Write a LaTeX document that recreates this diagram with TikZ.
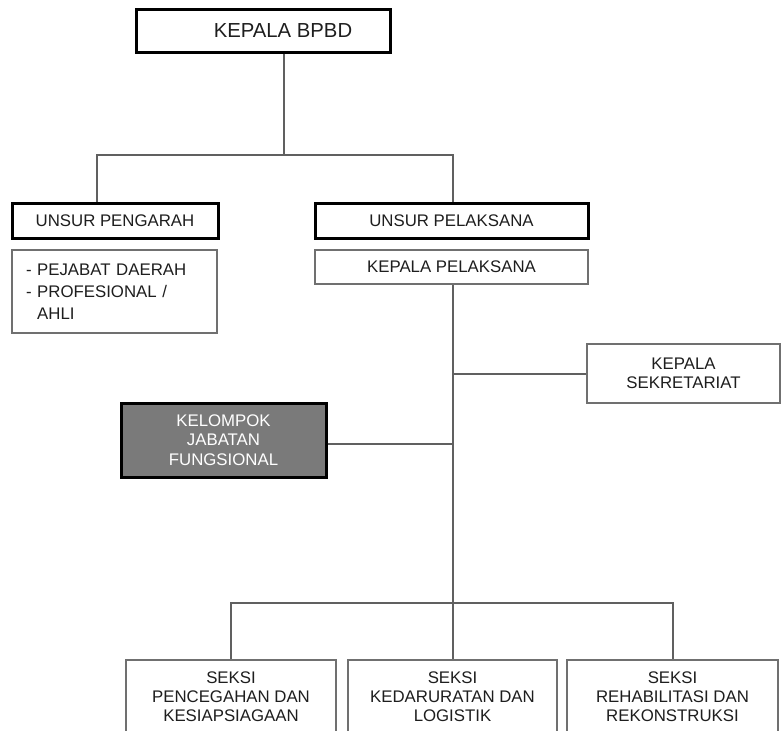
\documentclass[tikz,border=0pt]{standalone}
\usepackage{fontspec}
\setmainfont{Liberation Sans}
\definecolor{txt}{HTML}{1E1E1E}
\definecolor{lin}{HTML}{606060}
\definecolor{thinb}{HTML}{707070}
\definecolor{kfill}{HTML}{7A7A7A}
\begin{document}
\begin{tikzpicture}[x=1pt,y=-1pt,
  every node/.style={font=\fontsize{16.8}{19}\selectfont, text=txt, inner sep=0pt},
  thickbox/.style={draw=black, line width=3pt, fill=white},
  thinbox/.style={draw=thinb, line width=1.5pt, fill=white},
  conn/.style={draw=lin, line width=2pt},
  lbl/.style={align=center}]
\useasboundingbox (0,0) rectangle (782,731);

\node[thickbox, minimum width=254, minimum height=43, font=\fontsize{20.3}{22}\selectfont] (bpbd) at (263,30.5) {\hspace*{40pt}KEPALA BPBD};
\node[thickbox, minimum width=206, minimum height=35] (pengarah) at (115,220.5) {UNSUR PENGARAH};
\node[thickbox, minimum width=273, minimum height=35] (pelaksana) at (451.5,220.5) {UNSUR PELAKSANA};
\node[thinbox, minimum width=205, minimum height=83, text width=177, align=left, font=\fontsize{16.8}{22}\selectfont] (pejabat) at (114.5,291.5) {- PEJABAT DAERAH\\- PROFESIONAL /\\\phantom{- }AHLI};
\node[thinbox, minimum width=273, minimum height=34] (kplaks) at (451.5,267) {KEPALA PELAKSANA};
\node[thinbox, minimum width=193, minimum height=59, lbl] (sekre) at (683.5,373.5) {KEPALA\\SEKRETARIAT};
\node[thickbox, fill=kfill, minimum width=205, minimum height=74, lbl, text=white, font=\fontsize{16.8}{19.5}\selectfont] (kjf) at (223.5,440) {KELOMPOK\\JABATAN\\FUNGSIONAL};
\node[thinbox, minimum width=210, minimum height=74, lbl] (s1) at (231,697) {SEKSI\\PENCEGAHAN DAN\\KESIAPSIAGAAN};
\node[thinbox, minimum width=209, minimum height=74, lbl] (s2) at (452.5,697) {SEKSI\\KEDARURATAN DAN\\LOGISTIK};
\node[thinbox, minimum width=211, minimum height=74, lbl] (s3) at (672.5,697) {SEKSI\\REHABILITASI DAN\\REKONSTRUKSI};

\coordinate (top) at (284,155);
\coordinate (tl) at (97,155);
\coordinate (tr) at (453,155);
\coordinate (bot) at (453,603);

\draw[conn] (bpbd.south -| top) -- (top);
\draw[conn] (pengarah.north -| tl) -- (tl) -- (tr) -- (pelaksana.north -| tr);
\draw[conn] (kplaks.south -| bot) -- (bot);
\draw[conn] (sekre.west) -- (sekre.west -| bot);
\draw[conn] (kjf.east |- 0,444) -- (bot |- 0,444);
\draw[conn] (s1.north) |- (bot) -| (s3.north);
\draw[conn] (bot) -- (s2.north -| bot);
\end{tikzpicture}
\end{document}
